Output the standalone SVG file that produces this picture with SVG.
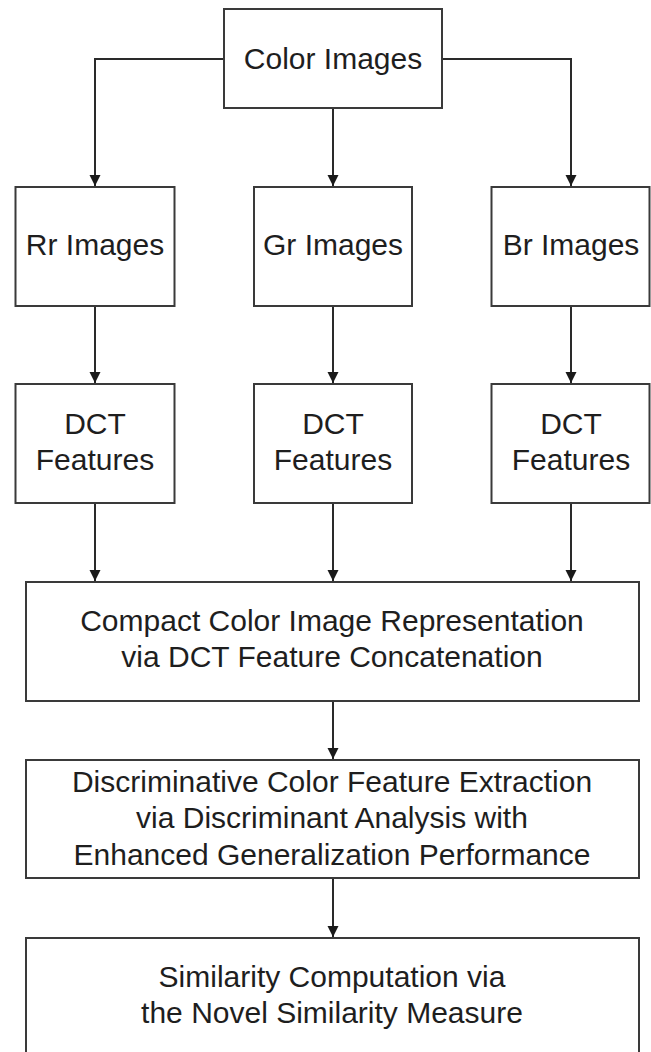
<svg xmlns="http://www.w3.org/2000/svg" width="651" height="1052" viewBox="0 0 651 1052">
  <style>
    .box { fill: #ffffff; stroke: #3a3a3a; stroke-width: 2; }
    .lbl { font-family: "Liberation Sans", Arial, sans-serif; font-size: 30px; fill: #1e1e1e; text-anchor: middle; }
    .edge { fill: none; stroke: #2a2a2a; stroke-width: 2; }
  </style>
  <defs>
    <marker id="arrow" markerUnits="userSpaceOnUse" markerWidth="12" markerHeight="12" viewBox="0 0 12 12" refX="11" refY="6" orient="auto">
      <path d="M0,0.5 L11,6 L0,11.5 Z" fill="#1a1a1a"/>
    </marker>
  </defs>
  <rect width="651" height="1052" fill="#ffffff"/>

  <!-- connectors -->
  <g id="connectors">
    <path class="edge" d="M224,59 H95 V186" marker-end="url(#arrow)"/>
    <path class="edge" d="M333,108 V186" marker-end="url(#arrow)"/>
    <path class="edge" d="M442,59 H571 V186" marker-end="url(#arrow)"/>
    <path class="edge" d="M95,306 V383" marker-end="url(#arrow)"/>
    <path class="edge" d="M333,306 V383" marker-end="url(#arrow)"/>
    <path class="edge" d="M571,306 V383" marker-end="url(#arrow)"/>
    <path class="edge" d="M95,503 V581" marker-end="url(#arrow)"/>
    <path class="edge" d="M333,503 V581" marker-end="url(#arrow)"/>
    <path class="edge" d="M571,503 V581" marker-end="url(#arrow)"/>
    <path class="edge" d="M333,701 V759" marker-end="url(#arrow)"/>
    <path class="edge" d="M333,878 V937" marker-end="url(#arrow)"/>
  </g>

  <g id="color-images">
    <rect class="box" x="224" y="9" width="218" height="99"/>
    <text class="lbl" x="333" y="69">Color Images</text>
  </g>

  <g id="rr-images">
    <rect class="box" x="15.5" y="187" width="159" height="119"/>
    <text class="lbl" x="95" y="255">Rr Images</text>
  </g>
  <g id="gr-images">
    <rect class="box" x="254" y="187" width="158" height="119"/>
    <text class="lbl" x="333" y="255">Gr Images</text>
  </g>
  <g id="br-images">
    <rect class="box" x="491.5" y="187" width="158" height="119"/>
    <text class="lbl" x="571" y="255">Br Images</text>
  </g>

  <g id="dct-r">
    <rect class="box" x="15.5" y="384" width="159" height="119"/>
    <text class="lbl" x="95" y="434">DCT</text>
    <text class="lbl" x="95" y="470">Features</text>
  </g>
  <g id="dct-g">
    <rect class="box" x="254" y="384" width="158" height="119"/>
    <text class="lbl" x="333" y="434">DCT</text>
    <text class="lbl" x="333" y="470">Features</text>
  </g>
  <g id="dct-b">
    <rect class="box" x="491.5" y="384" width="158" height="119"/>
    <text class="lbl" x="571" y="434">DCT</text>
    <text class="lbl" x="571" y="470">Features</text>
  </g>

  <g id="compact">
    <rect class="box" x="26" y="582" width="613" height="119"/>
    <text class="lbl" x="332" y="631">Compact Color Image Representation</text>
    <text class="lbl" x="332" y="667">via DCT Feature Concatenation</text>
  </g>

  <g id="discriminative">
    <rect class="box" x="26" y="760" width="613" height="118"/>
    <text class="lbl" x="332" y="792">Discriminative Color Feature Extraction</text>
    <text class="lbl" x="332" y="828">via Discriminant Analysis with</text>
    <text class="lbl" x="332" y="865">Enhanced Generalization Performance</text>
  </g>

  <g id="similarity">
    <rect class="box" x="26" y="938" width="613" height="130"/>
    <text class="lbl" x="332" y="987">Similarity Computation via</text>
    <text class="lbl" x="332" y="1023">the Novel Similarity Measure</text>
  </g>
</svg>
